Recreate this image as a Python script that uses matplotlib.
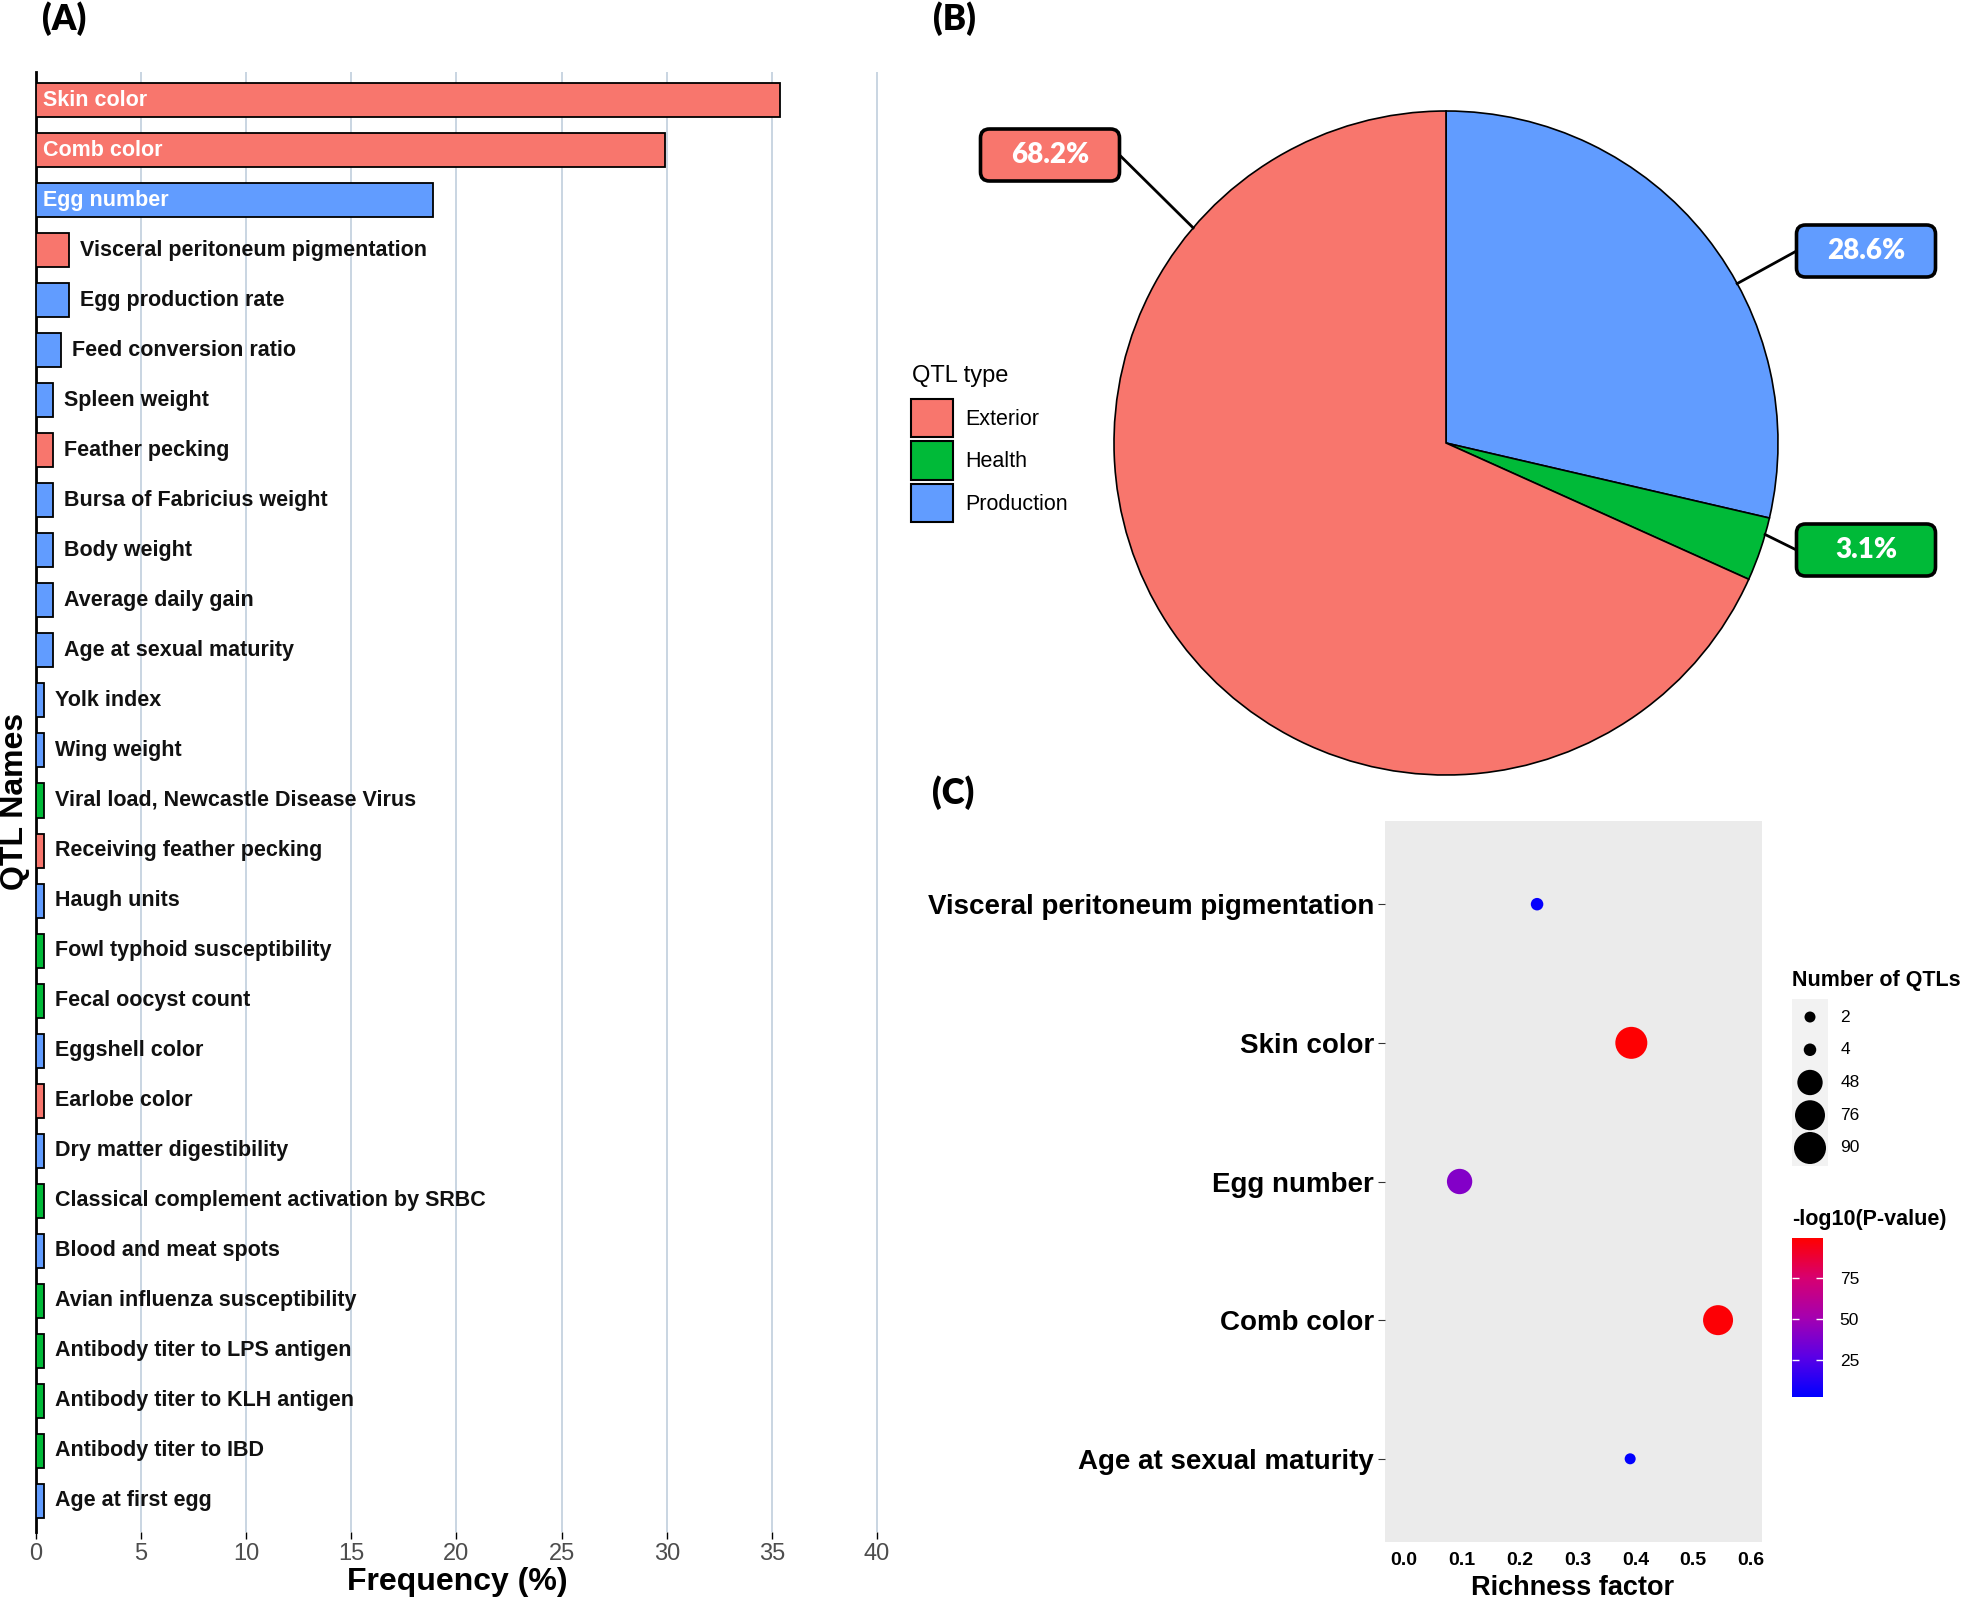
import numpy as np
import matplotlib
matplotlib.use("Agg")
import matplotlib.pyplot as plt
from matplotlib.patches import Patch, FancyBboxPatch
from matplotlib.colors import LinearSegmentedColormap, Normalize
from matplotlib.cm import ScalarMappable

plt.rcParams['font.family'] = ['Liberation Sans', 'DejaVu Sans']

# ---- data: panel A (QTL frequency) ----
qtl_names = ["Skin color", "Comb color", "Egg number", "Visceral peritoneum pigmentation",
             "Egg production rate", "Feed conversion ratio", "Spleen weight", "Feather pecking",
             "Bursa of Fabricius weight", "Body weight", "Average daily gain",
             "Age at sexual maturity", "Yolk index", "Wing weight",
             "Viral load, Newcastle Disease Virus", "Receiving feather pecking", "Haugh units",
             "Fowl typhoid susceptibility", "Fecal oocyst count", "Eggshell color",
             "Earlobe color", "Dry matter digestibility", "Classical complement activation by SRBC",
             "Blood and meat spots", "Avian influenza susceptibility",
             "Antibody titer to LPS antigen", "Antibody titer to KLH antigen",
             "Antibody titer to IBD", "Age at first egg"]
qtl_freq = [35.4, 29.9, 18.9, 1.57, 1.57, 1.18, 0.79, 0.79, 0.79, 0.79, 0.79, 0.79,
            0.39, 0.39, 0.39, 0.39, 0.39, 0.39, 0.39, 0.39, 0.39, 0.39, 0.39, 0.39,
            0.39, 0.39, 0.39, 0.39, 0.39]
qtl_type = ["Exterior", "Exterior", "Production", "Exterior", "Production", "Production",
            "Production", "Exterior", "Production", "Production", "Production", "Production",
            "Production", "Production", "Health", "Exterior", "Production", "Health",
            "Health", "Production", "Exterior", "Production", "Health", "Production",
            "Health", "Health", "Health", "Health", "Production"]

type_names = ["Exterior", "Health", "Production"]
type_colors = {"Exterior": "#F8766D", "Health": "#00BA38", "Production": "#619CFF"}

# ---- data: panel B (QTL type share) ----
pie_types = ["Production", "Health", "Exterior"]
pie_pct = [28.6, 3.1, 68.2]

# ---- data: panel C (enrichment) ----
enr_terms = ["Visceral peritoneum pigmentation", "Skin color", "Egg number",
             "Comb color", "Age at sexual maturity"]
enr_rich = [0.230, 0.393, 0.096, 0.543, 0.391]
enr_count = [4, 90, 48, 76, 2]
enr_logp = [4, 99, 40, 98, 3]
size_breaks = [2, 4, 48, 76, 90]
logp_ticks = [25, 50, 75]

W, H = 1966, 1600
fig = plt.figure(figsize=(W / 100, H / 100), dpi=100)


def px(x0, y0, x1, y1):
    return [x0 / W, 1 - y1 / H, (x1 - x0) / W, (y1 - y0) / H]


# ================= (A) =================
ax = fig.add_axes(px(36, 72, 898, 1532))
n = len(qtl_names)
ypos = np.arange(n)[::-1]
ax.barh(ypos, qtl_freq, height=0.68, color=[type_colors[t] for t in qtl_type],
        edgecolor="black", linewidth=1.3, zorder=3)
for y, name, v in zip(ypos, qtl_names, qtl_freq):
    if v > 10:
        ax.annotate(name, (0, y), xytext=(5, 0), textcoords="offset points",
                    ha="left", va="center", color="white", fontsize=15.5, fontweight="bold", zorder=4)
    else:
        ax.annotate(name, (v, y), xytext=(8, 0), textcoords="offset points",
                    ha="left", va="center", color="#111111", fontsize=15.5, fontweight="bold", zorder=4)
ax.set_xlim(0, 41)
ax.set_ylim(-0.62, n - 1 + 0.56)
ax.set_xticks(np.arange(0, 41, 5))
ax.set_yticks([])
ax.xaxis.grid(True, color="#C9D5E2", linewidth=1.4)
ax.set_axisbelow(True)
for s in ["top", "right", "bottom"]:
    ax.spines[s].set_visible(False)
ax.spines["left"].set_linewidth(2)
ax.tick_params(axis="x", length=5, width=1, color="black", labelsize=17,
               labelcolor="#4D4D4D", pad=3)
fig.text(457 / W, 1 - 1582 / H, "Frequency (%)", ha="center", va="center",
         fontsize=23, fontweight="bold")
fig.text(15 / W, 1 - 801 / H, "QTL Names", ha="center", va="center", rotation=90,
         fontsize=23, fontweight="bold")

# ================= (B) =================
axp = fig.add_axes(px(900, 40, 1966, 800))
cx, cy, R = 1446, 1600 - 443, 332
axp.pie(pie_pct, colors=[type_colors[t] for t in pie_types], startangle=90,
        counterclock=False, radius=R, center=(cx, cy),
        wedgeprops=dict(edgecolor="black", linewidth=1.2))
axp.set_xlim(900, 1966)
axp.set_ylim(800, 1560)
axp.set_aspect("equal")
axp.axis("off")

# label boxes: (anchor angle clockwise from top, box centre, side of leader line)
label_layout = {"Production": (61.3, (1866, 1600 - 251), "left"),
                "Health": (106.0, (1866, 1600 - 550), "left"),
                "Exterior": (310.4, (1050, 1600 - 155), "right")}
bw, bh = 139, 52
for t, p in zip(pie_types, pie_pct):
    ang, (bx, by), side = label_layout[t]
    a = np.deg2rad(ang)
    ax_, ay_ = cx + R * np.sin(a), cy + R * np.cos(a)
    ex = bx - bw / 2 if side == "left" else bx + bw / 2
    axp.plot([ex, ax_], [by, ay_], color="black", linewidth=2, zorder=2)
    box = FancyBboxPatch((bx - bw / 2, by - bh / 2), bw, bh,
                         boxstyle="round,pad=0,rounding_size=9",
                         facecolor=type_colors[t], edgecolor="black", linewidth=2.6, zorder=3)
    axp.add_patch(box)
    axp.text(bx, by, f"{p}%", ha="center", va="center", color="white", fontsize=20,
             fontweight="heavy", family=["Lato", "DejaVu Sans"], zorder=4)

fig.text(912 / W, 1 - 376 / H, "QTL type", ha="left", va="center", fontsize=17)
handles = [Patch(facecolor=type_colors[t], edgecolor="black", linewidth=1.5) for t in type_names]
leg = fig.legend(handles, type_names, loc="upper left",
                 bbox_to_anchor=(911 / W, 1 - 399 / H), frameon=False, fontsize=15.5,
                 handlelength=1.95, handleheight=2.35,
                 labelspacing=0.2, handletextpad=0.55, borderpad=0, borderaxespad=0)

# ================= (C) =================
axc = fig.add_axes(px(1385, 821, 1762, 1542))
axc.set_facecolor("#EBEBEB")
cmap = LinearSegmentedColormap.from_list(
    "bluered", [(0, "#0000FF"), (0.25, "#5A00E6"), (0.5, "#A500B0"),
                (0.75, "#D70070"), (1, "#FF0000")])
norm = Normalize(2.4, 99.4)


def dot_size(cnt):
    t = (np.sqrt(cnt) - np.sqrt(min(size_breaks))) / (np.sqrt(max(size_breaks)) - np.sqrt(min(size_breaks)))
    d_px = 11 + 21 * t
    return (0.72 * d_px) ** 2


cy_pos = np.arange(len(enr_terms))[::-1]
axc.scatter(enr_rich, cy_pos, s=[dot_size(c) for c in enr_count], c=enr_logp,
            cmap=cmap, norm=norm, linewidths=0, zorder=3)
axc.set_xlim(-0.033, 0.619)
axc.set_ylim(-0.6, 4.6)
axc.set_yticks(cy_pos)
axc.set_yticklabels(enr_terms, fontsize=20, fontweight="bold")
axc.set_xticks(np.arange(0, 0.61, 0.1))
axc.set_xticklabels([f"{v:.1f}" for v in np.arange(0, 0.61, 0.1)], fontsize=14, fontweight="bold")
axc.tick_params(axis="y", length=5, color="#333333", pad=3)
axc.tick_params(axis="x", length=0, pad=7)
for s in axc.spines.values():
    s.set_visible(False)
fig.text(1573 / W, 1 - 1588 / H, "Richness factor", ha="center", va="center",
         fontsize=19.5, fontweight="bold")

# size legend
fig.text(1792 / W, 1 - 980 / H, "Number of QTLs", ha="left", va="center",
         fontsize=15.5, fontweight="bold")
lax = fig.add_axes(px(1792, 999, 1828, 1166))
lax.set_facecolor("#F2F2F2")
ly = np.arange(len(size_breaks))[::-1]
lax.scatter(np.zeros(len(size_breaks)), ly, s=[dot_size(c) for c in size_breaks],
            color="black", linewidths=0)
lax.set_xlim(-1, 1)
lax.set_ylim(-0.55, len(size_breaks) - 0.45)
lax.set_xticks([])
lax.set_yticks([])
for s in lax.spines.values():
    s.set_visible(False)
for y, b in zip(ly, size_breaks):
    lax.annotate(str(b), (1, y), xytext=(9, 0), textcoords="offset points",
                 ha="left", va="center", fontsize=12.5, annotation_clip=False)

# colour legend
fig.text(1792 / W, 1 - 1220 / H, "-log10(P-value)", ha="left", va="center",
         fontsize=15.5, fontweight="bold")
cax = fig.add_axes(px(1792, 1238, 1823, 1397))
cb = fig.colorbar(ScalarMappable(norm=norm, cmap=cmap), cax=cax, ticks=logp_ticks)
cb.outline.set_visible(False)
cax.tick_params(direction="in", color="white", length=5, width=1, left=True, right=True,
                labelsize=12.5, pad=12)

# panel letters
for lab, (x, y) in {"(A)": (64, 19), "(B)": (954, 19), "(C)": (953, 793)}.items():
    fig.text(x / W, 1 - y / H, lab, ha="center", va="center", fontsize=25,
             fontweight="heavy", family=["Lato", "DejaVu Sans"])

fig.savefig("out.png", dpi=100)
